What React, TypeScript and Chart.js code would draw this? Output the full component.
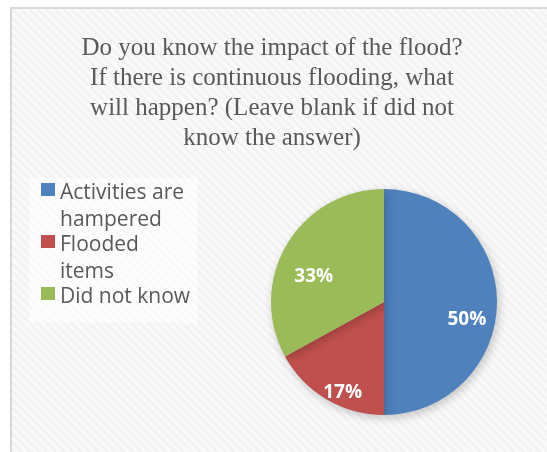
import React, { useEffect, useRef } from "react";
import { Chart, registerables } from "chart.js";

Chart.register(...registerables);

const titleLines = [
  "Do you know the impact of the flood?",
  "If there is continuous flooding, what",
  "will happen? (Leave blank if did not",
  "know the answer)",
];
const categories = ["Activities are hampered", "Flooded items", "Did not know"];
const legendLines = [["Activities are", "hampered"], ["Flooded", "items"], ["Did not know"]];
const values = [50, 17, 33];
const percentLabels = ["50%", "17%", "33%"];
const colors = ["#4F81BD", "#C0504D", "#9BBB59"];
const labelRadius = [0.75, 0.88, 0.66];
const labelAngleShiftDeg = [12, -6, -11];

const decorPlugin = {
  id: "decor",
  beforeDatasetsDraw(chart: any) {
    const ctx = chart.ctx;
    ctx.save();
    // title
    ctx.fillStyle = "#595959";
    ctx.font = '25px "Liberation Serif", "Times New Roman", serif';
    ctx.textAlign = "center";
    ctx.textBaseline = "alphabetic";
    titleLines.forEach((t, i) => ctx.fillText(t, 272, 55 + i * 30));
    // legend
    ctx.fillStyle = "rgba(255,255,255,0.55)";
    ctx.fillRect(29, 178, 168, 145);
    ctx.font = '21px "Open Sans", sans-serif';
    ctx.textAlign = "left";
    let y = 199;
    legendLines.forEach((lines, i) => {
      ctx.fillStyle = colors[i];
      ctx.fillRect(41, y - 16, 14, 13);
      ctx.fillStyle = "#595959";
      lines.forEach((l, j) => {
        ctx.fillText(l, 60, y);
        if (j < lines.length - 1) y += 27;
      });
      y += 25;
    });
    ctx.restore();
    ctx.save();
    ctx.shadowColor = "rgba(0,0,0,0.22)";
    ctx.shadowBlur = 10;
    ctx.shadowOffsetX = 2;
    ctx.shadowOffsetY = 3;
  },
  afterDatasetsDraw(chart: any) {
    const ctx = chart.ctx;
    ctx.restore();
    ctx.save();
    const meta = chart.getDatasetMeta(0);
    ctx.fillStyle = "#ffffff";
    ctx.font = 'bold 19px "Open Sans", sans-serif';
    ctx.textAlign = "center";
    ctx.textBaseline = "middle";
    meta.data.forEach((arc: any, i: number) => {
      const p = arc.getProps(["x", "y", "startAngle", "endAngle", "outerRadius"], true);
      const mid = (p.startAngle + p.endAngle) / 2 + (labelAngleShiftDeg[i] * Math.PI) / 180;
      const r = p.outerRadius * labelRadius[i];
      ctx.fillText(percentLabels[i], p.x + Math.cos(mid) * r, p.y + Math.sin(mid) * r);
    });
    ctx.restore();
  },
};

export default function App() {
  const ref = useRef<HTMLCanvasElement>(null);
  useEffect(() => {
    if (!ref.current) return;
    const chart = new Chart(ref.current, {
      type: "pie",
      data: {
        labels: categories,
        datasets: [{ data: values, backgroundColor: colors, borderWidth: 0 }],
      },
      options: {
        responsive: false,
        animation: false,
        layout: { padding: { left: 271, right: 50, top: 189, bottom: 37 } },
        plugins: { legend: { display: false }, tooltip: { enabled: false }, title: { display: false } },
      },
      plugins: [decorPlugin],
    });
    return () => chart.destroy();
  }, []);
  return (
    <div style={{ position: "fixed", left: 0, top: 0, width: 547, height: 452, background: "#ffffff", overflow: "hidden" }}>
      <div
        style={{
          position: "absolute",
          left: 10,
          top: 7,
          right: 0,
          bottom: 0,
          borderLeft: "2px solid #d9d9d9",
          borderTop: "2px solid #d9d9d9",
          background: "repeating-linear-gradient(45deg, #f3f3f3 0px, #f3f3f3 3px, #fafafa 3px, #fafafa 6px)",
        }}
      />
      <canvas ref={ref} width={547} height={452} style={{ position: "absolute", left: 0, top: 0 }} />
    </div>
  );
}
